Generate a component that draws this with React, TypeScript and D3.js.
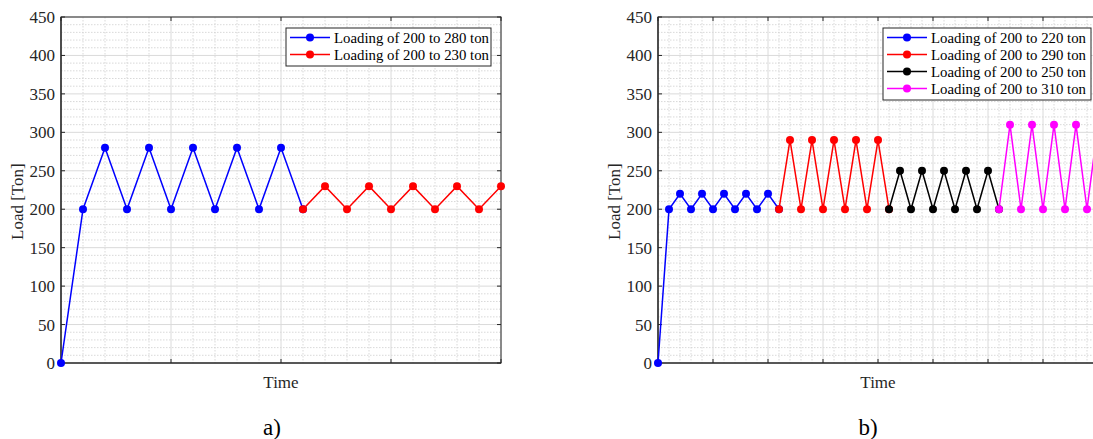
import React from "react";
import * as d3 from "d3";

// ---- data ----
const aBlue = [0, 200, 280, 200, 280, 200, 280, 200, 280, 200, 280, 200];
const aRed = [200, 230, 200, 230, 200, 230, 200, 230, 200, 230];
const aRedStart = 11;

const bBlue = [0, 200, 220, 200, 220, 200, 220, 200, 220, 200, 220, 200];
const bRed = [200, 290, 200, 290, 200, 290, 200, 290, 200, 290, 200];
const bBlack = [200, 250, 200, 250, 200, 250, 200, 250, 200, 250, 200];
const bMagenta = [200, 310, 200, 310, 200, 310, 200, 310, 200, 310];
const bStarts = [0, 11, 21, 31];

const yTicks = [0, 50, 100, 150, 200, 250, 300, 350, 400, 450];
const aLegend = ["Loading of 200 to 280 ton", "Loading of 200 to 230 ton"];
const bLegend = [
  "Loading of 200 to 220 ton",
  "Loading of 200 to 290 ton",
  "Loading of 200 to 250 ton",
  "Loading of 200 to 310 ton",
];

type Series = { values: number[]; start: number; color: string };

const FONT = "'Liberation Serif', 'Times New Roman', serif";

function Panel(props: {
  left: number;
  xMax: number;
  series: Series[];
  legend: string[];
  legendX: number;
  legendW: number;
  label: string;
  labelX: number;
  clipId: string;
}) {
  const { left, xMax, series, legend, legendX, legendW, label, labelX, clipId } = props;
  const top = 17;
  const bottom = 363;
  const width = 440;
  const x = d3.scaleLinear().domain([0, xMax]).range([left, left + width]);
  const y = d3.scaleLinear().domain([0, 450]).range([bottom, top]);
  const line = d3
    .line<[number, number]>()
    .x((d) => x(d[0]))
    .y((d) => y(d[1]));
  const minorX = d3.range(0, xMax + 1, 1).filter((v) => v % 5 !== 0);
  const majorX = d3.range(0, xMax + 1, 5);
  const minorY = d3.range(0, 451, 10).filter((v) => v % 50 !== 0);
  const axisColor = "#262626";
  const rowH = 17;
  const legendTop = 28;
  const legendH = legend.length * rowH + 4;
  return (
    <g>
      <defs>
        <clipPath id={clipId}>
          <rect x={left - 6} y={top - 6} width={width + 12} height={bottom - top + 12} />
        </clipPath>
      </defs>
      <rect x={left} y={top} width={width} height={bottom - top} fill="#fff" />
      {minorX.map((v) => (
        <line key={"mx" + v} x1={x(v)} x2={x(v)} y1={top} y2={bottom} stroke="#cfcfcf" strokeWidth={0.8} strokeDasharray="1.5 1.5" />
      ))}
      {minorY.map((v) => (
        <line key={"my" + v} x1={left} x2={left + width} y1={y(v)} y2={y(v)} stroke="#cfcfcf" strokeWidth={0.8} strokeDasharray="1.5 1.5" />
      ))}
      {majorX.map((v) => (
        <line key={"Mx" + v} x1={x(v)} x2={x(v)} y1={top} y2={bottom} stroke="#dadada" strokeWidth={1} />
      ))}
      {yTicks.map((v) => (
        <line key={"My" + v} x1={left} x2={left + width} y1={y(v)} y2={y(v)} stroke="#dadada" strokeWidth={1} />
      ))}
      {/* ticks */}
      {majorX.map((v) => (
        <g key={"tx" + v}>
          <line x1={x(v)} x2={x(v)} y1={bottom} y2={bottom - 4} stroke={axisColor} />
          <line x1={x(v)} x2={x(v)} y1={top} y2={top + 4} stroke={axisColor} />
        </g>
      ))}
      {yTicks.map((v) => (
        <g key={"ty" + v}>
          <line x1={left} x2={left + 4} y1={y(v)} y2={y(v)} stroke={axisColor} />
          <line x1={left + width} x2={left + width - 4} y1={y(v)} y2={y(v)} stroke={axisColor} />
          <text x={left - 6} y={y(v)} dy="0.35em" textAnchor="end" fontFamily={FONT} fontSize={17} fill="#262626">
            {v}
          </text>
        </g>
      ))}
      <rect x={left} y={top} width={width} height={bottom - top} fill="none" stroke={axisColor} strokeWidth={1} />
      <line x1={left} x2={left + width} y1={bottom} y2={bottom} stroke={axisColor} strokeWidth={1.2} />
      <line x1={left} x2={left} y1={top} y2={bottom} stroke={axisColor} strokeWidth={1.2} />
      <g clipPath={`url(#${clipId})`}>
        {series.map((s, i) => {
          const pts: [number, number][] = s.values.map((v, j) => [s.start + j, v]);
          return (
            <g key={"s" + i}>
              <path d={line(pts) || ""} fill="none" stroke={s.color} strokeWidth={1.5} />
              {pts.map((p, j) => (
                <circle key={j} cx={x(p[0])} cy={y(p[1])} r={4} fill={s.color} />
              ))}
            </g>
          );
        })}
      </g>
      {/* legend */}
      <rect x={legendX} y={legendTop} width={legendW} height={legendH} fill="#fff" stroke="#262626" strokeWidth={1} />
      {legend.map((t, i) => {
        const cy = legendTop + 9.5 + i * rowH;
        const c = series[i].color;
        return (
          <g key={"l" + i}>
            <line x1={legendX + 4} x2={legendX + 44} y1={cy} y2={cy} stroke={c} strokeWidth={1.5} />
            <circle cx={legendX + 24} cy={cy} r={4} fill={c} />
            <text x={legendX + 48} y={cy} dy="0.35em" fontFamily={FONT} fontSize={14.8} fill="#000">
              {t}
            </text>
          </g>
        );
      })}
      {/* axis labels */}
      <text x={left + width / 2} y={388} textAnchor="middle" fontFamily={FONT} fontSize={17} fill="#262626">
        Time
      </text>
      <text
        transform={`translate(${left - 38},${240}) rotate(-90)`}
        textAnchor="start"
        fontFamily={FONT}
        fontSize={17}
        fill="#262626"
      >
        Load [Ton]
      </text>
      <text x={labelX} y={435} textAnchor="middle" fontFamily={FONT} fontSize={23} fill="#000">
        {label}
      </text>
    </g>
  );
}

export default function App() {
  const aSeries: Series[] = [
    { values: aBlue, start: 0, color: "#0000ff" },
    { values: aRed, start: aRedStart, color: "#ff0000" },
  ];
  const bSeries: Series[] = [
    { values: bBlue, start: bStarts[0], color: "#0000ff" },
    { values: bRed, start: bStarts[1], color: "#ff0000" },
    { values: bBlack, start: bStarts[2], color: "#000000" },
    { values: bMagenta, start: bStarts[3], color: "#ff00ff" },
  ];
  return (
    <svg
      width={1093}
      height={439}
      style={{ position: "absolute", left: 0, top: 0, background: "#fff" }}
    >
      <rect x={0} y={0} width={1093} height={439} fill="#fff" />
      <Panel
        left={61}
        xMax={20}
        series={aSeries}
        legend={aLegend}
        legendX={286}
        legendW={205}
        label="a)"
        labelX={272}
        clipId="clipA"
      />
      <Panel
        left={658}
        xMax={40}
        series={bSeries}
        legend={bLegend}
        legendX={883}
        legendW={208}
        label="b)"
        labelX={868}
        clipId="clipB"
      />
    </svg>
  );
}
